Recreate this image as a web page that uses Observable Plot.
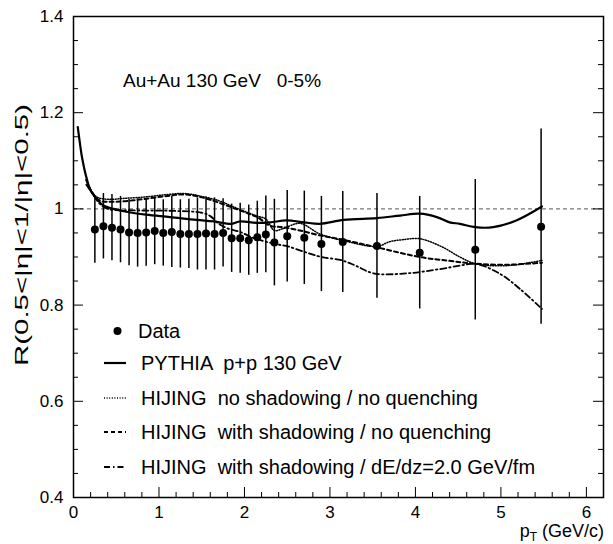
<!DOCTYPE html>
<html><head><meta charset="utf-8">
<script src="https://cdn.jsdelivr.net/npm/d3@7"></script>
<script src="https://cdn.jsdelivr.net/npm/@observablehq/plot@0.6"></script>
<style>
body{margin:0;background:#fff;}
#chart{width:613px;height:544px;}
svg{font-family:"Liberation Sans",Arial,Helvetica,sans-serif;}
</style></head><body><div id="chart"></div>
<script>
// ---- Data points (pT, ratio, error) ----
const dataX = [0.25,0.35,0.45,0.55,0.65,0.75,0.85,0.95,1.05,1.15,1.25,1.35,1.45,1.55,1.65,1.75,1.85,1.95,2.05,2.15,2.25,2.35,2.5,2.7,2.9,3.15,3.55,4.05,4.7,5.47];
const dataY = [0.957,0.964,0.961,0.957,0.951,0.950,0.951,0.954,0.950,0.952,0.948,0.948,0.948,0.949,0.948,0.950,0.939,0.939,0.935,0.941,0.947,0.930,0.943,0.940,0.927,0.931,0.923,0.909,0.915,0.963];
const dataErr = [0.070,0.068,0.069,0.069,0.069,0.071,0.070,0.070,0.069,0.074,0.071,0.072,0.075,0.076,0.075,0.071,0.071,0.073,0.073,0.075,0.080,0.090,0.095,0.097,0.099,0.105,0.109,0.117,0.146,0.203];

// ---- PYTHIA p+p 130 GeV (solid) ----
const pythiaX = [0.05,0.08,0.1,0.15,0.2,0.27,0.35,0.47,0.62,0.85,1.13,1.44,1.64,1.85,1.95,2.14,2.3,2.49,2.7,2.88,3.16,3.55,3.82,4.05,4.25,4.4,4.52,4.7,4.91,5.18,5.48];
const pythiaY = [1.17,1.13,1.107,1.066,1.038,1.021,1.007,1.0,0.994,0.988,0.983,0.977,0.974,0.969,0.974,0.971,0.972,0.976,0.972,0.969,0.977,0.981,0.986,0.990,0.983,0.972,0.969,0.962,0.962,0.976,1.005];

// ---- HIJING no shadowing / no quenching (dotted) ----
const hijNoShX = [0.15,0.2,0.27,0.4,0.6,0.85,1.1,1.3,1.5,1.7,1.85,2.0,2.15,2.25,2.35,2.45,2.65,2.88,3.16,3.55,3.7,3.85,4.05,4.3,4.52,4.7,5.07,5.48];
const hijNoShY = [1.06,1.04,1.025,1.02,1.022,1.025,1.03,1.032,1.026,1.017,1.006,0.995,0.985,0.979,0.955,0.959,0.970,0.948,0.934,0.922,0.932,0.936,0.938,0.922,0.900,0.886,0.882,0.893];

// ---- HIJING with shadowing / no quenching (dashed) ----
const hijShX = [0.15,0.2,0.3,0.5,0.8,1.1,1.3,1.5,1.7,1.9,2.05,2.15,2.3,2.45,2.65,2.88,3.15,3.55,4.05,4.4,4.7,5.07,5.48];
const hijShY = [1.06,1.04,1.018,1.015,1.02,1.027,1.03,1.024,1.013,1.0,0.99,0.983,0.965,0.962,0.955,0.945,0.936,0.920,0.900,0.892,0.886,0.884,0.888];

// ---- HIJING with shadowing / dE/dz=2.0 GeV/fm (dash-dot) ----
const hijQX = [0.15,0.21,0.3,0.4,0.7,1.15,1.5,1.6,1.7,1.81,1.95,2.1,2.36,2.51,2.71,2.9,3.14,3.3,3.51,3.9,4.29,4.52,4.7,4.99,5.22,5.48];
const hijQY = [1.05,1.035,1.012,1.0,0.997,0.996,0.992,0.985,0.969,0.959,0.952,0.940,0.927,0.922,0.910,0.900,0.893,0.882,0.866,0.866,0.875,0.882,0.886,0.865,0.834,0.792];

// ---- Axes ticks and labels ----
const xMajor = [0,1,2,3,4,5,6];
const xMinor = d3.range(1,31).map(i=>i*0.2).filter(v=>Math.abs(v-Math.round(v))>1e-6);
const yMajor = [0.4,0.6,0.8,1.0,1.2,1.4];
const yMinor = d3.range(9,28).map(i=>i*0.05).filter(v=>Math.abs(v*5-Math.round(v*5))>1e-6);
const legendLabels = ["Data","PYTHIA  p+p 130 GeV","HIJING  no shadowing / no quenching","HIJING  with shadowing / no quenching","HIJING  with shadowing / dE/dz=2.0 GeV/fm"];
const titleText = "Au+Au 130 GeV   0-5%";
const yTitle = "R(0.5<|η|<1/|η|<0.5)";

const pts = dataX.map((x,i)=>({x, y:dataY[i], e:dataErr[i]}));
const mk = (X,Y)=>X.map((x,i)=>({x,y:Y[i]}));

const W=613,H=544,mL=73,mR=10,mT=16,mB=47;
const iW=W-mL-mR, iH=H-mT-mB;
const dashes = {solid:null, dotted:"1,1.6", dashed:"4,3", dashdot:"6,3,1.5,3"};

const plot = Plot.plot({
  width:W, height:H, marginLeft:mL, marginRight:mR, marginTop:mT, marginBottom:mB,
  x:{domain:[0,6.2]}, y:{domain:[0.4,1.4]},
  style:{fontFamily:"'Liberation Sans',Arial,sans-serif", fontSize:"17px", background:"white", color:"black", overflow:"visible"},
  marks:[
    Plot.ruleY([1],{stroke:"#555",strokeWidth:1,strokeDasharray:"4,3"}),
    Plot.tickX(xMajor,{x:d=>d, insetTop:iH-10, stroke:"black", strokeWidth:1}),
    Plot.tickX(xMinor,{x:d=>d, insetTop:iH-5, stroke:"black", strokeWidth:1}),
    Plot.tickY(yMajor,{y:d=>d, insetRight:iW-10, stroke:"black", strokeWidth:1}),
    Plot.tickY(yMinor,{y:d=>d, insetRight:iW-5, stroke:"black", strokeWidth:1}),
    Plot.tickY(yMajor,{y:d=>d, insetLeft:iW-10, stroke:"black", strokeWidth:1}),
    Plot.tickY(yMinor,{y:d=>d, insetLeft:iW-5, stroke:"black", strokeWidth:1}),
    Plot.axisX({ticks:xMajor, tickSize:0, tickPadding:8, tickFormat:d=>String(d), label:null, fontSize:17}),
    Plot.axisY({ticks:yMajor, tickSize:0, tickPadding:10, tickFormat:d=>String(+d.toFixed(1)), label:null, fontSize:17}),
    Plot.line(mk(hijNoShX,hijNoShY),{x:"x",y:"y",curve:"catmull-rom",stroke:"black",strokeWidth:1.5,strokeDasharray:dashes.dotted}),
    Plot.line(mk(hijShX,hijShY),{x:"x",y:"y",curve:"catmull-rom",stroke:"black",strokeWidth:2,strokeDasharray:dashes.dashed}),
    Plot.line(mk(hijQX,hijQY),{x:"x",y:"y",curve:"catmull-rom",stroke:"black",strokeWidth:1.8,strokeDasharray:dashes.dashdot}),
    Plot.line(mk(pythiaX,pythiaY),{x:"x",y:"y",curve:"catmull-rom",stroke:"black",strokeWidth:2.2}),
    Plot.ruleX(pts,{x:"x",y1:d=>d.y-d.e,y2:d=>d.y+d.e,stroke:"black",strokeWidth:1.5}),
    Plot.dot(pts,{x:"x",y:"y",r:4,fill:"black",stroke:null}),
    Plot.frame({stroke:"black",strokeWidth:1.5})
  ]
});
document.getElementById("chart").appendChild(plot);

const svg = d3.select(plot);
const g = svg.append("g").attr("font-family","'Liberation Sans',Arial,sans-serif").attr("fill","black").attr("text-anchor","start");
// title annotation
g.append("text").attr("x",123).attr("y",87).attr("font-size",19).attr("text-anchor","start").style("white-space","pre").text(titleText);
// x title with subscript
const xt = g.append("text").attr("x",604).attr("y",537).attr("text-anchor","end").attr("font-size",18);
xt.append("tspan").text("p");
xt.append("tspan").attr("font-size",12).attr("dy",4).text("T");
xt.append("tspan").attr("dy",-4).style("white-space","pre").text(" (GeV/c)");
// y title
g.append("text").attr("transform","translate(28,235) rotate(-90)").attr("text-anchor","middle").attr("font-size",18)
  .attr("textLength",262).attr("lengthAdjust","spacingAndGlyphs").text(yTitle);
// legend
const legY = [331,363,398,432,467];
const styles = ["dot","solid","dotted","dashed","dashdot"];
const widths = [0,2.2,1.5,2,1.8];
legY.forEach((cy,i)=>{
  if(styles[i]==="dot"){
    g.append("circle").attr("cx",117.5).attr("cy",cy).attr("r",4).attr("fill","black");
  } else {
    g.append("line").attr("x1",104).attr("x2",126).attr("y1",cy).attr("y2",cy)
      .attr("stroke","black").attr("stroke-width",widths[i])
      .attr("stroke-dasharray",dashes[styles[i]]);
  }
  g.append("text").attr("x",i===0?138:141).attr("y",cy+7).attr("font-size",20).attr("text-anchor","start").style("white-space","pre").text(legendLabels[i]);
});
</script></body></html>
